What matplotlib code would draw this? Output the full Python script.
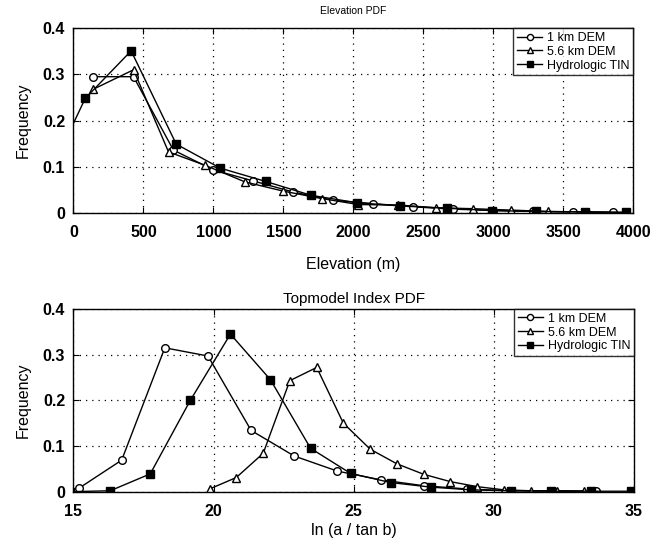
import matplotlib
matplotlib.use("Agg")
import matplotlib.pyplot as plt

plt.rcParams['font.family'] = ['Liberation Sans', 'DejaVu Sans']

# Elevation PDF
elev_1km = [143, 429, 714, 1000, 1286, 1571, 1857, 2143, 2429, 2714, 3000, 3286, 3571, 3857]
freq_1km = [0.295, 0.295, 0.136, 0.093, 0.069, 0.045, 0.027, 0.020, 0.013, 0.008, 0.005, 0.003, 0.002, 0.001]
elev_56km = [143, 429, 679, 941, 1226, 1500, 1774, 2036, 2321, 2590, 2857, 3127, 3393, 3679, 3941]
freq_56km = [0.268, 0.310, 0.132, 0.103, 0.067, 0.047, 0.031, 0.018, 0.017, 0.011, 0.009, 0.006, 0.003, 0.002, 0.001]
elev_tin = [-240, 84, 412, 734, 1048, 1374, 1698, 2024, 2333, 2667, 2993, 3303, 3655, 3945]
freq_tin = [0.040, 0.248, 0.351, 0.149, 0.097, 0.068, 0.038, 0.022, 0.015, 0.010, 0.005, 0.003, 0.002, 0.001]

# Topmodel index PDF
idx_1km = [15.18, 16.72, 18.26, 19.80, 21.34, 22.88, 24.42, 25.96, 27.50, 29.04, 30.58, 32.12, 33.66]
pdf_1km = [0.007, 0.069, 0.315, 0.297, 0.134, 0.078, 0.045, 0.026, 0.013, 0.006, 0.002, 0.002, 0.001]
idx_56km = [19.86, 20.81, 21.77, 22.72, 23.68, 24.63, 25.59, 26.54, 27.50, 28.45, 29.41, 30.36, 31.32, 32.27, 33.23]
pdf_56km = [0.006, 0.031, 0.084, 0.243, 0.272, 0.150, 0.093, 0.061, 0.038, 0.022, 0.011, 0.004, 0.002, 0.002, 0.001]
idx_tin = [14.88, 16.31, 17.74, 19.17, 20.60, 22.03, 23.46, 24.89, 26.32, 27.75, 29.18, 30.61, 32.04, 33.47, 34.90]
pdf_tin = [0.0, 0.002, 0.039, 0.200, 0.345, 0.245, 0.095, 0.040, 0.020, 0.010, 0.004, 0.002, 0.001, 0.001, 0.001]

labels = ['1 km DEM', '5.6 km DEM', 'Hydrologic TIN']


def draw(ax, series, xlim, xticks, xlabel, xlabelpad, title, title_size, title_pad):
    styles = [dict(marker='o', mfc='white'), dict(marker='^', mfc='white'), dict(marker='s', mfc='black')]
    for (x, y), st, lab in zip(series, styles, labels):
        ax.plot(x, y, color='black', lw=1.0, ms=5.5, mec='black', label=lab, **st)
    ax.set_xlim(*xlim)
    ax.set_ylim(0, 0.4)
    ax.set_xticks(xticks)
    ax.set_yticks([0, 0.1, 0.2, 0.3, 0.4])
    ax.set_yticklabels(['0', '0.1', '0.2', '0.3', '0.4'])
    ax.grid(True, color='black', linestyle=(0, (1, 4)), linewidth=0.9)
    ax.tick_params(direction='in', top=True, right=True, labelsize=11.5, length=4)
    ax.tick_params(axis='x', pad=9)
    ax.tick_params(axis='y', pad=6)
    for t in ax.get_xticklabels() + ax.get_yticklabels():
        t.set_fontweight('bold')
    for s in ax.spines.values():
        s.set_linewidth(1.0)
    ax.set_xlabel(xlabel, fontsize=11.5, labelpad=xlabelpad)
    ax.set_ylabel('Frequency', fontsize=11.5, labelpad=9)
    ax.set_title(title, fontsize=title_size, pad=title_pad)
    leg = ax.legend(loc='upper right', fontsize=9, frameon=True, fancybox=False,
                    borderaxespad=0, handlelength=2.0, handletextpad=0.4,
                    borderpad=0.3, labelspacing=0.15, markerscale=0.8)
    leg.get_frame().set_edgecolor('black')
    leg.get_frame().set_linewidth(1.0)


fig = plt.figure(figsize=(6.68, 5.43), dpi=100)
ax1 = fig.add_axes([0.11, 0.608, 0.838, 0.34])
ax2 = fig.add_axes([0.11, 0.0945, 0.839, 0.3365])

draw(ax1, [(elev_1km, freq_1km), (elev_56km, freq_56km), (elev_tin, freq_tin)],
     (0, 4000), range(0, 4001, 500), 'Elevation (m)', 12, 'Elevation PDF', 7.5, 10)
draw(ax2, [(idx_1km, pdf_1km), (idx_56km, pdf_56km), (idx_tin, pdf_tin)],
     (15, 35), range(15, 36, 5), 'ln (a / tan b)', 3, 'Topmodel Index PDF', 11, 4)

fig.savefig('out.png', dpi=100)
